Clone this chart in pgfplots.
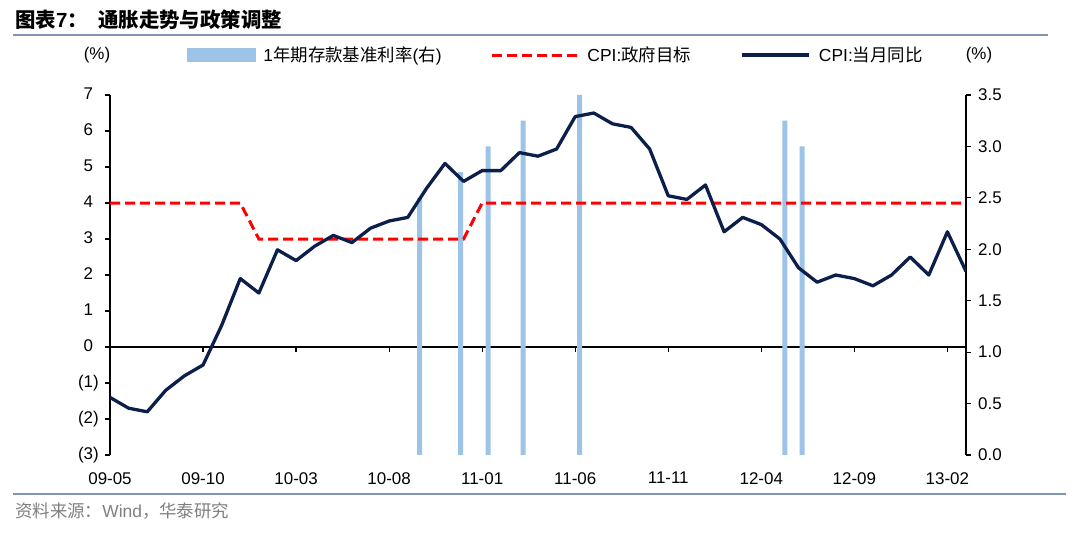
\documentclass[border=0pt]{standalone}
\usepackage{pgfplots}
\pgfplotsset{compat=1.18}
\usepackage{fontspec}
\setmainfont{Liberation Sans}
\newfontfamily\cjk{Noto Sans CJK SC}
\definecolor{navy}{HTML}{0C1F4B}
\definecolor{rateblue}{HTML}{9DC3E6}
\definecolor{rulegrey}{HTML}{7F96B2}
\definecolor{srcgrey}{HTML}{7F7F7F}
\newcommand{\tickfont}{\fontsize{17}{20}\selectfont}

\pgfplotsset{
  base/.style={
    at={(110bp,80bp)}, anchor=south west,
    width=856bp, height=360bp, scale only axis,
    xmin=0, xmax=46,
    axis line style={-, black, line width=1.4bp},
    tick style={black, line width=1.2bp},
    major tick length=5bp,
    tick align=outside,
    tick label style={font=\tickfont},
  },
}

\begin{document}
\begin{tikzpicture}
\path[use as bounding box] (0bp,0bp) rectangle (1080bp,535bp);

% heading and source
\node[anchor=west, inner sep=0pt, font=\fontsize{20.5}{24}\selectfont\bfseries] at (15bp,515bp) {{\cjk 图表}7{\cjk ：}};
\node[anchor=west, inner sep=0pt, font=\fontsize{20.5}{24}\selectfont\bfseries] at (98bp,515bp) {\cjk 通胀走势与政策调整};
\draw[rulegrey, line width=2bp] (13bp,500bp) -- (1048bp,500bp);
\draw[rulegrey, line width=2bp] (13bp,41bp) -- (1066bp,41bp);
\node[anchor=west, inner sep=0pt, text=srcgrey, font=\fontsize{17.5}{20}\selectfont] at (15bp,24bp) {{\cjk 资料来源：}Wind{\cjk ，华泰研究}};
\node[font=\tickfont] at (97bp,480bp) {(\%)};
\node[font=\tickfont] at (979bp,480bp) {(\%)};

% zero line with month ticks
\begin{axis}[base,
  ymin=-3, ymax=7,
  axis x line=middle, axis y line=none,
  every inner x axis line/.append style={-},
  x axis line style={-},
  xtick={0,5,...,45}, xticklabels={},
  tick align=center,
  xtick style={black, line width=1.2bp, yshift=-2.5bp},
]
\end{axis}

% deposit rate, right axis
\begin{axis}[base,
  ymin=0, ymax=3.5,
  axis y line*=right, axis x line=none,
  ytick={0,0.5,...,3.5},
  yticklabels={0.0,0.5,1.0,1.5,2.0,2.5,3.0,3.5},
  yticklabel style={anchor=west, inner sep=0pt, xshift=7bp},
]
\addplot[ybar, bar width=5bp, fill=rateblue, draw=none] coordinates {
  (16.64,2.50) (18.84,2.75) (20.32,3.00) (22.20,3.25)
  (25.23,3.50) (36.27,3.25) (37.19,3.00)
};
\end{axis}

% CPI, left axis
\begin{axis}[base,
  ymin=-3, ymax=7,
  axis y line*=left, axis x line*=bottom,
  x axis line style={draw=none},
  xtick={0,5,...,45},
  xticklabels={09-05,09-10,10-03,10-08,11-01,11-06,11-11,12-04,12-09,13-02},
  xtick style={draw=none},
  xticklabel style={inner sep=0pt, yshift=-12bp},
  ytick={-3,-2,...,7},
  yticklabels={(3),(2),(1),0\phantom{)},1\phantom{)},2\phantom{)},3\phantom{)},4\phantom{)},5\phantom{)},6\phantom{)},7\phantom{)}},
  yticklabel style={anchor=east, inner sep=0pt, xshift=-6bp},
  legend columns=3,
  legend style={at={(0.09,1.111)}, anchor=west, draw=none, fill=none,
    inner sep=0pt, outer sep=0pt, font=\fontsize{17.5}{20}\selectfont,
    nodes={inner sep=0pt, anchor=west},
    /tikz/every odd column/.append style={column sep=8bp}},
]
\addlegendimage{legend image code/.code={\fill[rateblue] (0bp,-6.5bp) rectangle (68bp,6.5bp);}}
\addlegendentry{\makebox[227bp][l]{1{\cjk 年期存款基准利率}({\cjk 右})}}
\addplot[red, line width=3bp, dash pattern=on 10bp off 5bp,
  legend image code/.code={\draw[red, line width=3bp, dash pattern=on 10bp off 5bp] (0bp,0bp) -- (86bp,0bp);}]
  coordinates {(0,4) (7,4) (8,3) (19,3) (20,4) (46,4)};
\addlegendentry{\makebox[153bp][l]{CPI:{\cjk 政府目标}}}
\addplot[navy, line width=3.3bp, line join=round,
  legend image code/.code={\draw[navy, line width=3.5bp] (0bp,0bp) -- (67bp,0bp);}]
  coordinates {
  (0,-1.4) (1,-1.7) (2,-1.8) (3,-1.2) (4,-0.8) (5,-0.5) (6,0.6) (7,1.9)
  (8,1.5) (9,2.7) (10,2.4) (11,2.8) (12,3.1) (13,2.9) (14,3.3) (15,3.5)
  (16,3.6) (17,4.4) (18,5.1) (19,4.6) (20,4.9) (21,4.9) (22,5.4) (23,5.3)
  (24,5.5) (25,6.4) (26,6.5) (27,6.2) (28,6.1) (29,5.5) (30,4.2) (31,4.1)
  (32,4.5) (33,3.2) (34,3.6) (35,3.4) (36,3.0) (37,2.2) (38,1.8) (39,2.0)
  (40,1.9) (41,1.7) (42,2.0) (43,2.5) (44,2.0) (45,3.2) (46,2.1)
  };
\addlegendentry{CPI:{\cjk 当月同比}}
\end{axis}
\end{tikzpicture}
\end{document}
